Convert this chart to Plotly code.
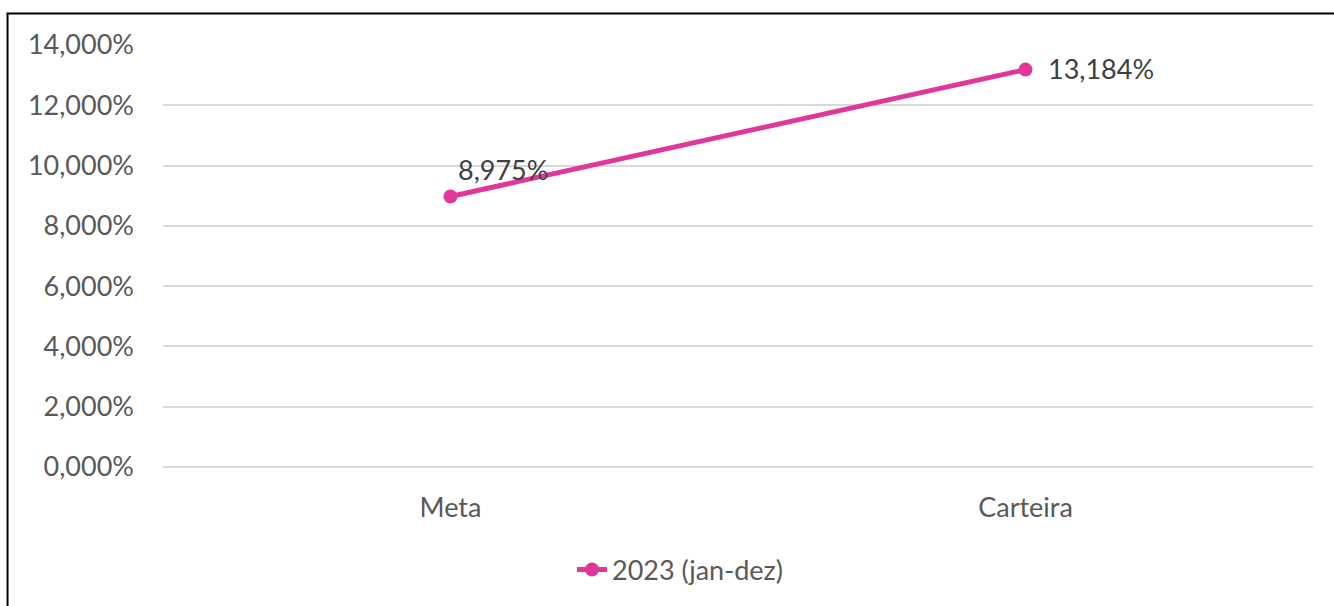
import plotly.graph_objects as go

categories = ["Meta", "Carteira"]
values = [8.975, 13.184]
labels = ["8,975%", "13,184%"]
tick_vals = [0, 2, 4, 6, 8, 10, 12, 14]
tick_text = ["0,000%", "2,000%", "4,000%", "6,000%", "8,000%", "10,000%", "12,000%", "14,000%"]
series_name = "2023 (jan-dez)"

FONT = "Lato, 'Open Sans', sans-serif"
PINK = "#E2379A"
FS = 27

fig = go.Figure()
fig.add_trace(go.Scatter(
    x=categories, y=values, mode="lines+markers", name=series_name,
    line=dict(color=PINK, width=5),
    marker=dict(color=PINK, size=14),
    hoverinfo="skip",
))

# data labels
fig.add_annotation(x=categories[0], y=values[0], text=labels[0], showarrow=False,
                   xanchor="left", yanchor="bottom", xshift=5, yshift=8,
                   font=dict(family=FONT, size=FS, color="#404040"))
fig.add_annotation(x=categories[1], y=values[1], text=labels[1], showarrow=False,
                   xanchor="left", yanchor="middle", xshift=20, yshift=1,
                   font=dict(family=FONT, size=FS, color="#404040"))

# outer border (cut at right and bottom)
fig.add_shape(type="rect", xref="paper", yref="paper",
              x0=-0.1352, x1=1.2, y0=-0.5, y1=1.0746,
              line=dict(color="black", width=2), fillcolor="rgba(0,0,0,0)", layer="above")

fig.update_layout(
    width=1334, height=606,
    margin=dict(l=163, r=21, t=45, b=139, autoexpand=False),
    paper_bgcolor="white", plot_bgcolor="white",
    font=dict(family=FONT, size=FS, color="#595959"),
    showlegend=True,
    legend=dict(orientation="h", x=0.45, xanchor="center", y=-0.186, yanchor="top",
                font=dict(family=FONT, size=FS, color="#595959")),
    xaxis=dict(type="category", range=[-0.5, 1.5], showgrid=False, showline=False,
               ticks="", ticklabelstandoff=22, automargin=False,
               tickfont=dict(family=FONT, size=FS, color="#595959"), zeroline=False),
    yaxis=dict(range=[0, 14], tickvals=tick_vals, ticktext=tick_text,
               showgrid=True, gridcolor="#D9D9D9", gridwidth=1.5,
               zeroline=True, zerolinecolor="#D9D9D9", zerolinewidth=1.5,
               showline=False, ticks="", ticklabelstandoff=28, automargin=False,
               tickfont=dict(family=FONT, size=FS, color="#595959")),
)

fig.write_html("out.html", config={"displayModeBar": False},
               post_script="document.body.style.margin='0';document.body.style.overflow='hidden';")
